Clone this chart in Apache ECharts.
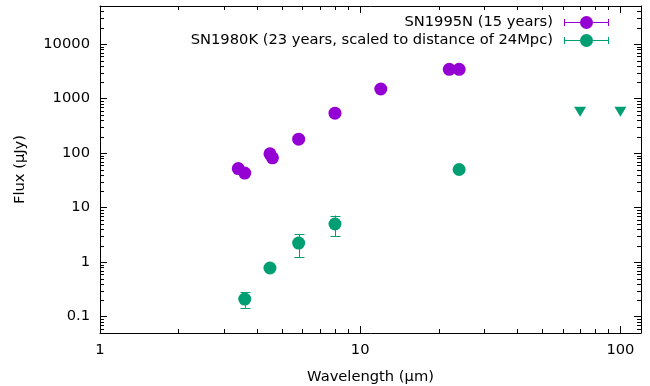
<!DOCTYPE html>
<html><head><meta charset="utf-8">
<script src="https://cdn.jsdelivr.net/npm/echarts@6/dist/echarts.min.js"></script>
<style>html,body{margin:0;padding:0;background:#fff}#c{width:650px;height:386px}</style>
</head><body><div id="c"></div>
<script>
// ---- data ----
const seriesNames = ['SN1995N (15 years)', 'SN1980K (23 years, scaled to distance of 24Mpc)'];
const sn1995nWavelength = [3.4, 3.6, 4.5, 4.6, 5.8, 8.0, 12, 22, 24];
const sn1995nFlux = [52, 43, 97, 82, 180, 540, 1500, 3450, 3450];
const sn1980kWavelength = [3.6, 4.5, 5.8, 8.0, 24];
const sn1980kFlux = [0.21, 0.78, 2.23, 5.0, 50];
const sn1980kFluxLow = [0.144, null, 1.22, 2.95, null];
const sn1980kFluxHigh = [0.279, null, 3.21, 7.15, null];
const limitWavelength = [70, 100];
const limitFlux = [575, 575];
const xTickValues = [1, 10, 100];
const yTickValues = [0.1, 1, 10, 100, 1000, 10000];
const xRange = [1, 120];
const yRange = [0.05, 50000];

// ---- style ----
const FONT = 'DejaVu Sans';
const FS = 14.7;
const PURPLE = '#9400d3';
const GREEN = '#009e73';

function labelFormatter(ticks) {
  return function (v) {
    const m = ticks.find(t => Math.abs(Math.log10(v) - Math.log10(t)) < 1e-6);
    return m !== undefined ? String(m) : '';
  };
}
function minorValues(range) {
  const out = [];
  const lo = Math.floor(Math.log10(range[0])), hi = Math.ceil(Math.log10(range[1]));
  for (let e = lo; e <= hi; e++) {
    for (let k = 2; k <= 9; k++) {
      const v = +(k * Math.pow(10, e)).toPrecision(6);
      if (v >= range[0] && v <= range[1]) out.push(v);
    }
  }
  return out;
}
function axis(isX, pos, showLabel) {
  const ticks = isX ? xTickValues : yTickValues;
  const range = isX ? xRange : yRange;
  const a = {
    type: 'log', logBase: 10, min: range[0], max: range[1], position: pos,
    axisLine: { show: true, onZero: false, lineStyle: { color: '#000', width: 1 } },
    axisTick: { show: true, inside: true, length: 7, lineStyle: { color: '#000', width: 1 } },
    axisLabel: { show: showLabel, formatter: labelFormatter(ticks), color: '#000',
      fontFamily: FONT, fontSize: FS, margin: 10 },
    splitLine: { show: false }, minorTick: { show: false }
  };
  if (showLabel) {
    a.name = isX ? 'Wavelength (µm)' : 'Flux (µJy)';
    a.nameLocation = 'middle';
    a.nameGap = isX ? 37 : 72;
    a.nameTextStyle = { fontFamily: FONT, fontSize: FS, color: '#000' };
  }
  return a;
}

const iconPath = 'path://M0 6H16V7H0Z M29 6H45V7H29Z M0 3H1V10H0Z M44 3H45V10H44Z ' +
  'M16 6.5A6.5 6.5 0 1 0 29 6.5A6.5 6.5 0 1 0 16 6.5Z';

function legendFor(name, top) {
  return {
    data: [name], right: 41, top: top, orient: 'vertical', align: 'right',
    icon: iconPath, itemWidth: 45, itemHeight: 13, padding: 0, selectedMode: false,
    textStyle: { fontFamily: FONT, fontSize: FS, color: '#000', padding: [0, 6, 0, 0] }
  };
}

const xMinor = minorValues(xRange).map(v => [v, 1]);
const yMinor = minorValues(yRange).map(v => [10, v]);
const errData = sn1980kWavelength.map((x, i) => [x, sn1980kFlux[i], sn1980kFluxLow[i], sn1980kFluxHigh[i]])
  .filter(d => d[2] != null);

const tickStyle = { stroke: '#000', lineWidth: 1 };
const crisp = v => Math.round(v) + 0.5;

const option = {
  animation: false,
  backgroundColor: '#fff',
  grid: { left: 100, right: 9, top: 6, bottom: 53, containLabel: false, outerBoundsMode: 'none' },
  xAxis: [axis(true, 'bottom', true), axis(true, 'top', false)],
  yAxis: [axis(false, 'left', true), axis(false, 'right', false)],
  legend: [legendFor(seriesNames[0], 15), legendFor(seriesNames[1], 33)],
  series: [
    {
      type: 'custom', name: 'xminor', silent: true, data: xMinor, clip: false,
      renderItem: function (params, api) {
        const cs = params.coordSys;
        const px = crisp(api.coord([api.value(0), api.value(1)])[0]);
        const yb = cs.y + cs.height, yt = cs.y;
        return { type: 'group', children: [
          { type: 'line', shape: { x1: px, y1: yb, x2: px, y2: yb - 4 }, style: tickStyle },
          { type: 'line', shape: { x1: px, y1: yt, x2: px, y2: yt + 4 }, style: tickStyle }
        ] };
      }
    },
    {
      type: 'custom', name: 'yminor', silent: true, data: yMinor, clip: false,
      renderItem: function (params, api) {
        const cs = params.coordSys;
        const py = crisp(api.coord([api.value(0), api.value(1)])[1]);
        const xl = cs.x, xr = cs.x + cs.width;
        return { type: 'group', children: [
          { type: 'line', shape: { x1: xl, y1: py, x2: xl + 4, y2: py }, style: tickStyle },
          { type: 'line', shape: { x1: xr, y1: py, x2: xr - 4, y2: py }, style: tickStyle }
        ] };
      }
    },
    {
      type: 'scatter', name: seriesNames[0], symbol: 'circle', symbolSize: 13,
      itemStyle: { color: PURPLE, opacity: 1 },
      data: sn1995nWavelength.map((x, i) => [x, sn1995nFlux[i]])
    },
    {
      type: 'custom', name: 'sn1980k-err', silent: true, data: errData,
      renderItem: function (params, api) {
        const p1 = api.coord([api.value(0), api.value(2)]);
        const p2 = api.coord([api.value(0), api.value(3)]);
        const cx = crisp(p1[0]);
        const st = { stroke: GREEN, lineWidth: 1 };
        return { type: 'group', children: [
          { type: 'line', shape: { x1: cx, y1: p1[1], x2: cx, y2: p2[1] }, style: st },
          { type: 'line', shape: { x1: cx - 5, y1: crisp(p1[1]), x2: cx + 5, y2: crisp(p1[1]) }, style: st },
          { type: 'line', shape: { x1: cx - 5, y1: crisp(p2[1]), x2: cx + 5, y2: crisp(p2[1]) }, style: st }
        ] };
      }
    },
    {
      type: 'scatter', name: seriesNames[1], symbol: 'circle', symbolSize: 13, z: 3,
      itemStyle: { color: GREEN, opacity: 1 },
      data: sn1980kWavelength.map((x, i) => [x, sn1980kFlux[i]])
    },
    {
      type: 'scatter', name: 'SN1980K limits', symbol: 'triangle', symbolRotate: 180,
      symbolSize: [12, 10], itemStyle: { color: GREEN, opacity: 1 },
      data: limitWavelength.map((x, i) => [x, limitFlux[i]])
    }
  ]
};

const chart = echarts.init(document.getElementById('c'), null, { renderer: 'canvas' });
chart.setOption(option);
</script>
</body></html>
